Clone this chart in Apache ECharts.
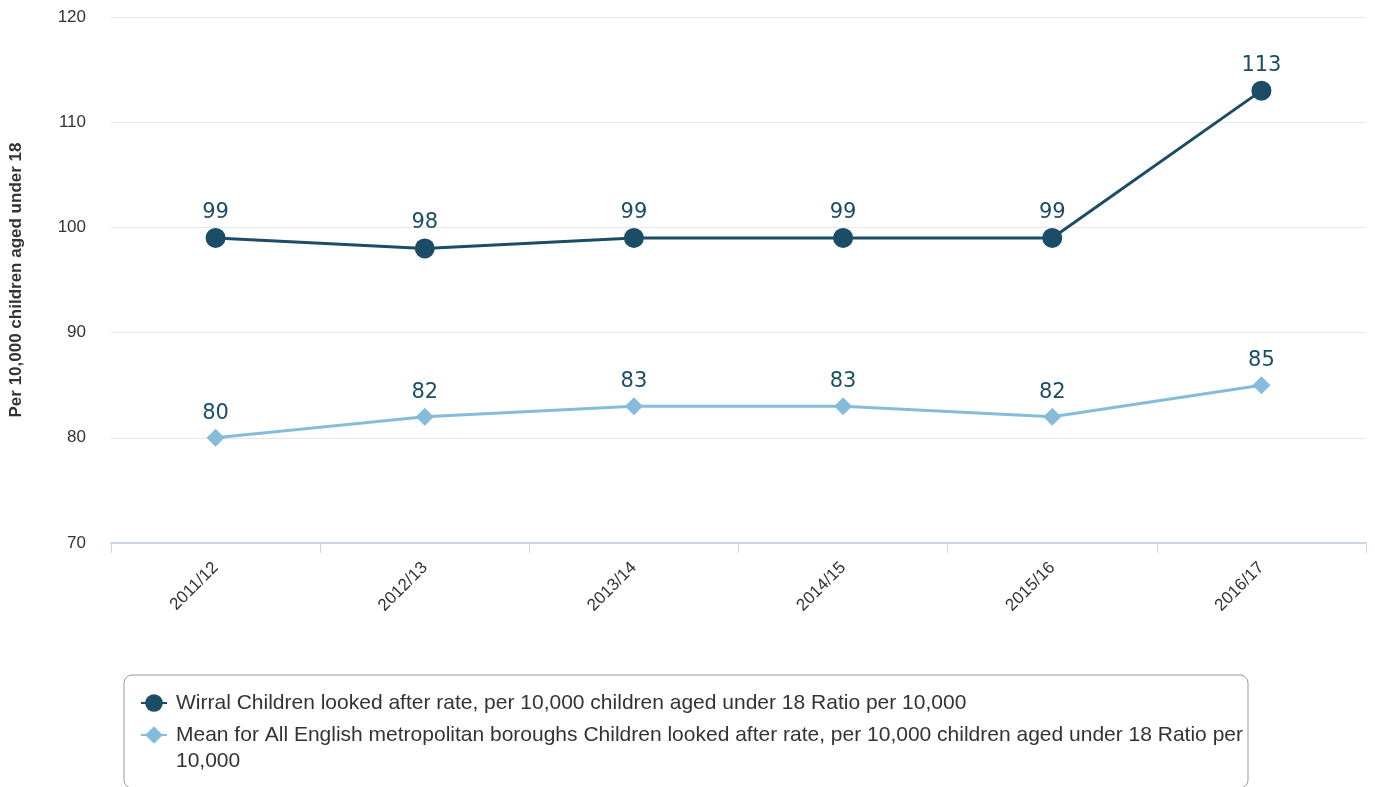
<!DOCTYPE html>
<html>
<head>
<meta charset="utf-8">
<script src="https://cdn.jsdelivr.net/npm/echarts@6/dist/echarts.min.js"></script>
<style>html,body{margin:0;padding:0;background:#fff}#c{width:1375px;height:787px}</style>
</head>
<body>
<div id="c"></div>
<script>
const categories = ['2011/12','2012/13','2013/14','2014/15','2015/16','2016/17'];
const wirral = [99, 98, 99, 99, 99, 113];
const meanMet = [80, 82, 83, 83, 82, 85];
const seriesNames = [
  'Wirral Children looked after rate, per 10,000 children aged under 18 Ratio per 10,000',
  'Mean for All English metropolitan boroughs Children looked after rate, per 10,000 children aged under 18 Ratio per 10,000'
];
const yTicks = {min: 70, max: 120, interval: 10};
const yTitle = 'Per 10,000 children aged under 18';

const chart = echarts.init(document.getElementById('c'));
const labelStyle = {show: true, position: 'top', distance: 5, fontFamily: 'DejaVu Sans', fontSize: 21, color: '#1b4d66'};
chart.setOption({
  animation: false,
  grid: {left: 111, right: 9, top: 17, bottom: 244, outerBoundsMode: 'none', containLabel: false},
  xAxis: {
    type: 'category', data: categories, boundaryGap: true,
    axisLine: {lineStyle: {color: '#ccd6eb', width: 2}},
    axisTick: {show: true, length: 10, lineStyle: {color: '#ccd6eb', width: 1}},
    axisLabel: {rotate: 45, fontFamily: 'Liberation Sans', fontSize: 17, color: '#333', margin: 22}
  },
  yAxis: {
    type: 'value', min: yTicks.min, max: yTicks.max, interval: yTicks.interval,
    name: yTitle, nameLocation: 'middle', nameGap: 86, nameRotate: 90,
    nameTextStyle: {fontFamily: 'Liberation Sans', fontSize: 17, fontWeight: 'bold', color: '#333'},
    axisLine: {show: false}, axisTick: {show: false},
    axisLabel: {fontFamily: 'Liberation Sans', fontSize: 17, color: '#333', margin: 25},
    splitLine: {lineStyle: {color: '#e6e6e6', width: 1}}
  },
  legend: {
    orient: 'vertical', left: 124, top: 675, height: 200,
    borderColor: '#999', borderWidth: 1, borderRadius: 8,
    padding: [15, 0, 14, 16], itemGap: -20,
    itemWidth: 26, itemHeight: 22,
    formatter: function (name) {
      if (name !== seriesNames[1]) return name;
      const cut = name.lastIndexOf(' ');
      return '\n' + name.slice(0, cut) + '\n' + name.slice(cut + 1);
    },
    textStyle: {fontFamily: 'Liberation Sans', fontSize: 21, color: '#333', width: 1072, overflow: 'break', lineHeight: 26, padding: [0, 0, 0, 4]},
    data: [seriesNames[0], seriesNames[1]]
  },
  series: [
    {
      name: seriesNames[0], type: 'line', data: wirral,
      symbol: 'circle', symbolSize: 20,
      lineStyle: {color: '#1b4d66', width: 3},
      itemStyle: {color: '#1b4d66'},
      label: labelStyle
    },
    {
      name: seriesNames[1], type: 'line', data: meanMet,
      symbol: 'diamond', symbolSize: 18,
      lineStyle: {color: '#86bcdb', width: 3},
      itemStyle: {color: '#86bcdb'},
      label: labelStyle
    }
  ]
});
</script>
</body>
</html>
